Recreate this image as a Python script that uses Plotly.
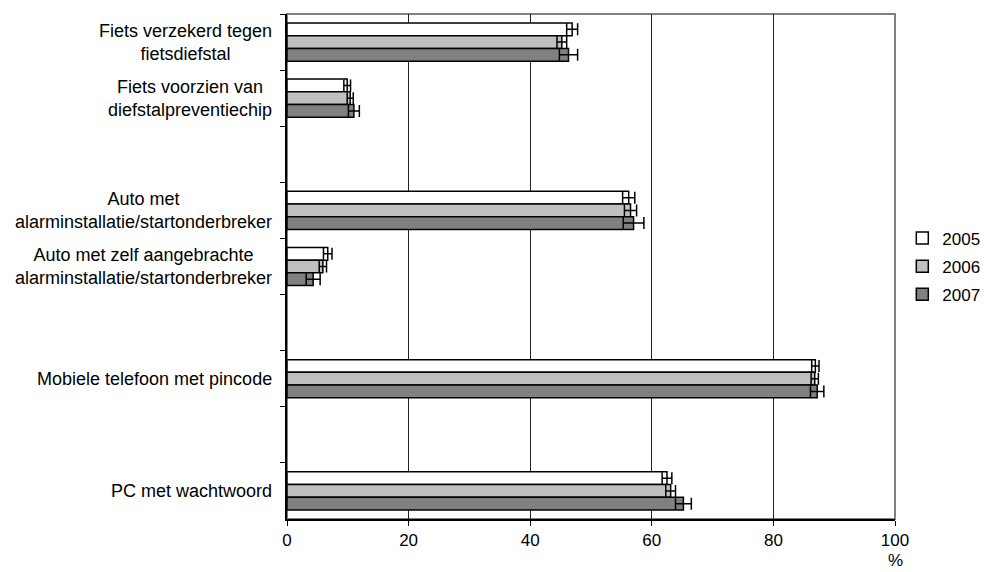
import plotly.graph_objects as go

# categories top to bottom; empty slots keep the gaps of the original chart
categories = [
    "Fiets verzekerd tegen<br>fietsdiefstal",
    "Fiets voorzien van<br>diefstalpreventiechip",
    "leeg1",
    "Auto met<br>alarminstallatie/startonderbreker",
    "Auto met zelf aangebrachte<br>alarminstallatie/startonderbreker",
    "leeg2",
    "Mobiele telefoon met pincode",
    "leeg3",
    "PC met wachtwoord",
]
blank = {"leeg1", "leeg2", "leeg3"}

years = ["2005", "2006", "2007"]
pct_2005 = [46.9, 9.9, None, 56.2, 6.7, None, 86.9, None, 62.5]
pct_2006 = [45.2, 10.4, None, 56.5, 5.9, None, 86.8, None, 63.1]
pct_2007 = [46.3, 11.0, None, 57.0, 4.3, None, 87.2, None, 65.2]
err_2005 = [0.9, 0.55, None, 1.0, 0.7, None, 0.6, None, 0.8]
err_2006 = [0.8, 0.5, None, 1.0, 0.6, None, 0.6, None, 0.8]
err_2007 = [1.5, 0.9, None, 1.7, 1.15, None, 1.1, None, 1.3]

colors = ["#FFFFFF", "#C0C0C0", "#808080"]
FONT = "Liberation Sans, Arial, sans-serif"

fig = go.Figure()
for year, vals, errs, col in zip(
    years, [pct_2005, pct_2006, pct_2007], [err_2005, err_2006, err_2007], colors
):
    fig.add_trace(
        go.Bar(
            name=year,
            legendgroup=year,
            y=categories,
            x=vals,
            orientation="h",
            marker=dict(color=col, line=dict(color="black", width=1.5)),
            error_x=dict(type="data", array=errs, color="black", thickness=1.5, width=6),
        )
    )

# centred multi-line category labels
for cat in categories:
    if cat in blank:
        continue
    fig.add_annotation(
        x=0, xref="paper", y=cat, yref="y",
        text=cat, showarrow=False, xanchor="right", xshift=-13,
        align="center", font=dict(size=18, color="black", family=FONT),
    )

fig.add_annotation(
    x=1, xref="paper", y=0, yref="paper", text="%", showarrow=False,
    xanchor="center", yanchor="bottom", yshift=-53,
    font=dict(size=17, color="black", family=FONT),
)

# plot area frame (grey top / right)
fig.add_shape(
    type="rect", xref="paper", yref="paper", x0=0, x1=1, y0=0, y1=1,
    line=dict(color="#808080", width=2), layer="below",
)

# page body keeps an 8px margin, so the figure is 8px smaller and shifted
fig.update_layout(
    width=982,
    height=564,
    margin=dict(l=279, r=95, t=6, b=53, autoexpand=False),
    barmode="group",
    bargap=0.32,
    bargroupgap=0,
    plot_bgcolor="white",
    paper_bgcolor="white",
    font=dict(family=FONT, size=17, color="black"),
    showlegend=True,
    legend=dict(
        x=1.012, xanchor="left", y=0.5, yanchor="middle",
        font=dict(size=17), itemwidth=30, tracegroupgap=3,
        traceorder="grouped", borderwidth=0,
    ),
    xaxis=dict(
        range=[0, 100],
        tickvals=[0, 20, 40, 60, 80, 100],
        showgrid=True, gridcolor="#222222", gridwidth=1,
        showline=True, linecolor="black", linewidth=1.5,
        ticks="outside", ticklen=5, tickcolor="black",
        zeroline=False,
    ),
    yaxis=dict(
        type="category",
        categoryorder="array",
        categoryarray=categories,
        range=[len(categories) - 0.5, -0.5],
        showticklabels=False,
        tickson="boundaries",
        ticks="outside", ticklen=5, tickcolor="black",
        showline=True, linecolor="black", linewidth=1.5,
        showgrid=False,
    ),
)

fig.write_html("out.html")
